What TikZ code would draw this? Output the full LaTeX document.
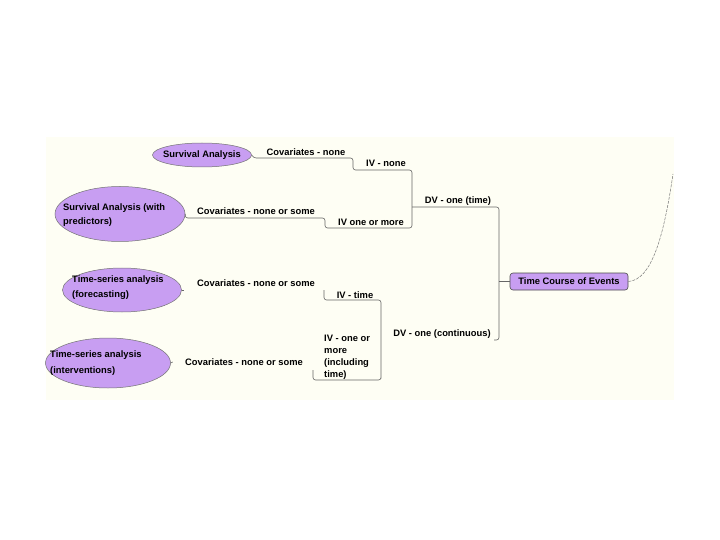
\documentclass[tikz,border=0pt]{standalone}
\usepackage{fontspec}
\setmainfont{Liberation Sans}
\usetikzlibrary{shapes.geometric}
\definecolor{paper}{HTML}{FEFEF4}
\definecolor{lavender}{HTML}{C89EF2}
\tikzset{
  topic/.style={font=\bfseries\fontsize{9.4}{12}\selectfont, inner sep=0pt, align=left},
  oval/.style={ellipse, draw=black!55, fill=lavender, line width=0.5pt, inner sep=0pt},
  rootbox/.style={rectangle, rounded corners=3pt, draw=black!70, fill=lavender, line width=0.6pt,
    minimum width=118bp, minimum height=17bp, inner sep=0pt},
  link/.style={draw=black!60, line width=0.6pt, rounded corners=2.5pt},
}
\begin{document}
\begin{tikzpicture}[x=1bp,y=-1bp]
\useasboundingbox (0,0) rectangle (720,540);
\fill[paper] (46,137) rectangle (674,400);

% methods (ovals)
\node[oval, minimum width=99bp, minimum height=24bp] (sa) at (202,155) {};
\node[oval, minimum width=130bp, minimum height=55bp] (sap) at (120,214) {};
\node[oval, minimum width=119bp, minimum height=44bp] (tsf) at (122,290) {};
\node[oval, minimum width=125bp, minimum height=50bp] (tsi) at (108,363) {};
\node[topic] (sa-t) at (sa) {Survival Analysis};
\node[topic, anchor=west, font=\bfseries\fontsize{9.4}{14}\selectfont] (sap-t) at (63,215) {Survival Analysis (with\\predictors)};
\node[topic, anchor=west, font=\bfseries\fontsize{9.4}{15}\selectfont] (tsf-t) at (72,288) {Time-series analysis\\(forecasting)};
\node[topic, anchor=west, font=\bfseries\fontsize{9.4}{16}\selectfont] (tsi-t) at (50,363) {Time-series analysis\\(interventions)};

% root
\node[rootbox, font=\bfseries\fontsize{9.4}{12}\selectfont] (tce) at (569,281.5) {Time Course of Events};

% branch labels
\node[topic] (cov1) at (306,152) {Covariates - none};
\node[topic] (ivn) at (386,163) {IV - none};
\node[topic] (dvt) at (458,201) {DV - one (time)};
\node[topic] (cov2) at (256,211) {Covariates - none or some};
\node[topic] (ivm) at (371,222) {IV one or more};
\node[topic] (cov3) at (256,283) {Covariates - none or some};
\node[topic] (ivt) at (355,295) {IV - time};
\node[topic] (dvc) at (442,334) {DV - one (continuous)};
\node[topic] (cov4) at (244,362) {Covariates - none or some};
\node[topic, anchor=west] (ivi) at (324,357) {IV - one or\\more\\(including\\time)};

% junctions
\coordinate (j1) at (353,158);
\coordinate (j2) at (412,170);
\coordinate (j3) at (412,228);
\coordinate (j4) at (325,218);
\coordinate (j5) at (412,207);
\coordinate (j6) at (499,207);
\coordinate (j7) at (499,340);
\coordinate (j8) at (499,281.5);
\coordinate (j9) at (324,290);
\coordinate (j10) at (381,300);
\coordinate (j11) at (313,370);
\coordinate (top) at (673,174);

% connectors
\draw[link] (sa.east) -- ++(2,3) -- (j1) |- (j2) -- (j3) -| (j4) -- (sap.east |- j4) -- (sap.east);
\draw[link] (j5) -- (j6) -- (j7) -- ++(-5,0);
\draw[link] (j8) -- (tce.west);
\draw[link] (j9) |- (j10) |- (j10 |- 0,380) -| (j11);
\draw[link] (tsf.east) -- ++(2,0);
\draw[link] (tsi.east) -- ++(2,-1);
\draw[draw=black!55, line width=0.5pt, dash pattern=on 3pt off 1.2pt]
  (tce.east) .. controls (652,280) and (664,235) .. (top);
\end{tikzpicture}
\end{document}
